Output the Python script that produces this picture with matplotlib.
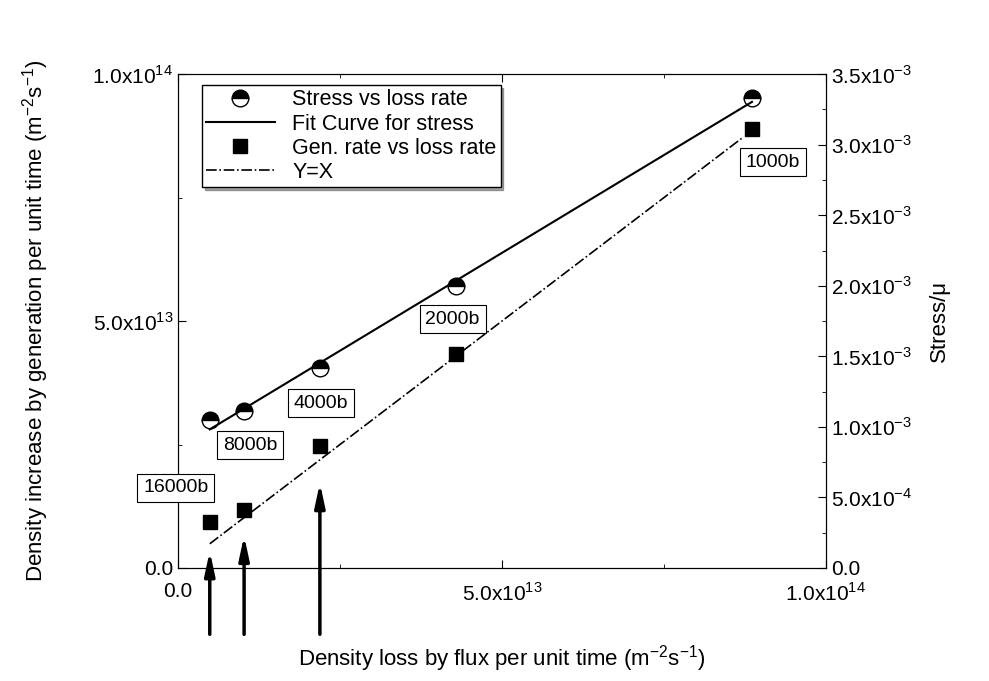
import numpy as np
import matplotlib.pyplot as plt
from matplotlib.ticker import FixedLocator, AutoMinorLocator

plt.rcParams['font.family'] = ['Liberation Sans', 'DejaVu Sans']
plt.rcParams['mathtext.fontset'] = 'custom'
plt.rcParams['mathtext.rm'] = 'Liberation Sans'
plt.rcParams['axes.unicode_minus'] = False

# data
loss_rate = [4.9e12, 10.2e12, 21.9e12, 42.9e12, 88.6e12]
gen_rate = [9.3e12, 11.7e12, 24.7e12, 43.3e12, 88.9e12]
stress = [1.049e-3, 1.112e-3, 1.417e-3, 1.998e-3, 3.33e-3]
sizes = ['16000b', '8000b', '4000b', '2000b', '1000b']
label_pos = [(-5.4e12, 1.62e13), (6.9e12, 2.49e13), (1.79e13, 3.34e13), (3.82e13, 5.04e13), (8.76e13, 8.22e13)]
yx_line = [4.9e12, 8.72e13]
arrow_x = [4.9e12, 10.2e12, 21.9e12]
arrow_top = [4.0e12, 7.1e12, 1.78e13]

fig = plt.figure(figsize=(9.89, 6.81), dpi=100)
ax = fig.add_axes([0.18, 0.166, 0.655, 0.725])
ax2 = ax.twinx()

def sci(v, exp):
    if v == 0:
        return '0.0'
    return r'%.1fx10$^{%d}$' % (v / 10**exp, exp)

ax.set_xlim(0, 1e14)
ax.set_ylim(0, 1e14)
ax2.set_ylim(0, 3.5e-3)

ax.xaxis.set_major_locator(FixedLocator([0, 5e13, 1e14]))
ax.yaxis.set_major_locator(FixedLocator([0, 5e13, 1e14]))
ax.set_xticklabels([sci(v, 13 if v < 1e14 else 14) for v in [0, 5e13, 1e14]])
ax.set_yticklabels([sci(v, 13 if v < 1e14 else 14) for v in [0, 5e13, 1e14]])
r_ticks = np.arange(0, 3.51e-3, 0.5e-3)
ax2.yaxis.set_major_locator(FixedLocator(r_ticks))
ax2.set_yticklabels([sci(v, -4 if v < 1e-3 else -3) for v in r_ticks])
for a in (ax, ax2):
    a.xaxis.set_minor_locator(AutoMinorLocator(2))
    a.yaxis.set_minor_locator(AutoMinorLocator(2))
    a.tick_params(which='both', direction='in', labelsize=15)
    a.tick_params(which='major', length=6)
    a.tick_params(which='minor', length=3)
ax.tick_params(top=True, which='both')
ax.tick_params(axis='x', pad=10)

ax.set_xlabel(r'Density loss by flux per unit time (m$^{-2}$s$^{-1}$)', fontsize=16, labelpad=28)
ax.set_ylabel(r'Density increase by generation per unit time (m$^{-2}$s$^{-1}$)', fontsize=16, labelpad=30)
ax2.set_ylabel('Stress/μ', fontsize=16, labelpad=12)

# stress and fit
fit = np.polyfit(loss_rate, stress, 1)
xf = np.array([loss_rate[0], loss_rate[-1]])
h1, = ax2.plot(loss_rate, stress, 'o', ms=12, fillstyle='top', markerfacecolor='black',
               markerfacecoloralt='white', markeredgecolor='black', label='Stress vs loss rate')
h2, = ax2.plot(xf, np.polyval(fit, xf), '-', color='black', lw=1.5, label='Fit Curve for stress')
h3, = ax.plot(loss_rate, gen_rate, 's', color='black', ms=10, label='Gen. rate vs loss rate')
h4, = ax.plot(yx_line, yx_line, '-.', color='black', lw=1.2, label='Y=X')

for s, (lx, ly) in zip(sizes, label_pos):
    ax.text(lx, ly, s, fontsize=14, ha='left', va='center', zorder=5,
            bbox=dict(boxstyle='square,pad=0.3', fc='white', ec='black', lw=0.8))

for x, top in zip(arrow_x, arrow_top):
    ax.annotate('', xy=(x, top), xytext=(x, -1.4e13), annotation_clip=False,
                arrowprops=dict(arrowstyle='-|>,head_width=0.3,head_length=1.4', color='black', lw=2.5))

leg = ax.legend(handles=[h1, h2, h3, h4], loc='upper left', fontsize=15.5, fancybox=False,
                shadow=True, framealpha=1, edgecolor='black', borderpad=0.2,
                handlelength=3.2, labelspacing=0.15, bbox_to_anchor=(0.02, 1.0))
leg.get_frame().set_linewidth(1.0)
leg.set_zorder(10)
ax.set_zorder(ax2.get_zorder() + 1)
ax.patch.set_visible(False)

fig.savefig('out.png', dpi=100)
